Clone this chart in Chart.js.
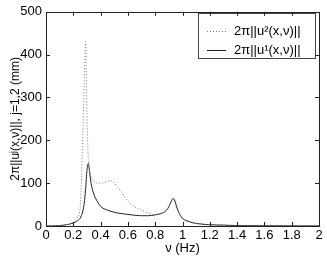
<!DOCTYPE html>
<html>
<head>
<meta charset="utf-8">
<script src="https://cdn.jsdelivr.net/npm/chart.js@4/dist/chart.umd.min.js"></script>
<style>
  html, body { margin: 0; padding: 0; background: #fff; }
  #wrap { width: 327px; height: 256px; }
</style>
</head>
<body>
<div id="wrap"><canvas id="chart" width="327" height="256"></canvas></div>
<script>
// frequency (Hz)
const freq = [0, 0.05, 0.1, 0.15, 0.2, 0.23, 0.25, 0.27, 0.28, 0.29, 0.3, 0.31, 0.32, 0.33, 0.35, 0.38,
  0.4, 0.45, 0.47, 0.5, 0.55, 0.6, 0.65, 0.7, 0.75, 0.8, 0.85, 0.88, 0.9, 0.92, 0.93, 0.94, 0.96, 0.98,
  1.0, 1.05, 1.1, 1.2, 1.3, 1.4, 1.6, 1.8, 2.0];

// 2*pi*||u1|| (mm), solid
const u1 = [0, 0.2, 1, 3, 7, 12, 18, 35, 53, 85, 130, 146, 125, 100, 75, 55,
  46, 37, 35, 32, 29, 27, 25, 24, 24, 26, 30, 36, 45, 59, 64, 62, 42, 27,
  18, 10, 6, 3, 2, 1, 0.5, 0.3, 0.2];

// 2*pi*||u2|| (mm), dotted
const u2 = [0, 0.3, 1, 3, 9, 20, 44, 215, 330, 430, 260, 155, 128, 114, 105, 100,
  100, 104, 106, 100, 80, 58, 45, 37, 30, 27, 30, 36, 45, 59, 64, 62, 42, 27,
  18, 10, 6, 3, 2, 1, 0.5, 0.3, 0.2];

const xTicks = [0, 0.2, 0.4, 0.6, 0.8, 1, 1.2, 1.4, 1.6, 1.8, 2];
const yTicks = [0, 100, 200, 300, 400, 500];

const labelU2 = "2π||u²(x,ν)||";
const labelU1 = "2π||u¹(x,ν)||";

const FONT = "Liberation Sans, Arial, Helvetica, sans-serif";
const AXIS = "#222";

const toPoints = (ys) => freq.map((f, i) => ({ x: f, y: ys[i] }));

// box + inward tick marks, matlab style
const frameTicks = {
  id: "frameTicks",
  afterDraw(chart) {
    const { ctx, chartArea, scales } = chart;
    const { left, right, top, bottom } = chartArea;
    const len = 4;
    ctx.save();
    ctx.strokeStyle = AXIS;
    ctx.lineWidth = 1;
    ctx.strokeRect(Math.round(left) + 0.5, Math.round(top) + 0.5,
      Math.round(right - left), Math.round(bottom - top));
    ctx.beginPath();
    xTicks.forEach((t) => {
      const px = Math.round(scales.x.getPixelForValue(t)) + 0.5;
      ctx.moveTo(px, bottom); ctx.lineTo(px, bottom - len);
      ctx.moveTo(px, top); ctx.lineTo(px, top + len);
    });
    yTicks.forEach((t) => {
      const py = Math.round(scales.y.getPixelForValue(t)) + 0.5;
      ctx.moveTo(left, py); ctx.lineTo(left + len, py);
      ctx.moveTo(right, py); ctx.lineTo(right - len, py);
    });
    ctx.stroke();
    ctx.restore();
  }
};

// legend box in the upper right corner
const boxLegend = {
  id: "boxLegend",
  afterDatasetsDraw(chart) {
    const { ctx } = chart;
    const bx = 198, by = 13, bw = 117, bh = 45;
    ctx.save();
    ctx.fillStyle = "#fff";
    ctx.fillRect(bx, by, bw, bh);
    ctx.strokeStyle = "#444";
    ctx.lineWidth = 1;
    ctx.strokeRect(bx + 0.5, by + 0.5, bw, bh);
    ctx.font = "13px " + FONT;
    ctx.textBaseline = "middle";
    ctx.fillStyle = "#000";
    chart.data.datasets.forEach((ds, i) => {
      const y = by + 18 + i * 19 + 0.5;
      ctx.strokeStyle = ds.borderColor;
      ctx.lineWidth = ds.borderWidth;
      ctx.setLineDash(ds.borderDash || []);
      ctx.beginPath();
      ctx.moveTo(bx + 9, y);
      ctx.lineTo(bx + 28, y);
      ctx.stroke();
      ctx.setLineDash([]);
      ctx.fillText(ds.label, bx + 36, y);
    });
    ctx.restore();
  }
};

new Chart(document.getElementById("chart"), {
  type: "line",
  data: {
    datasets: [
      {
        label: labelU2,
        data: toPoints(u2),
        borderColor: "#7a7a7a",
        borderWidth: 1,
        borderDash: [1, 2],
        pointRadius: 0,
        cubicInterpolationMode: "monotone",
        fill: false
      },
      {
        label: labelU1,
        data: toPoints(u1),
        borderColor: "#222",
        borderWidth: 1,
        pointRadius: 0,
        cubicInterpolationMode: "monotone",
        fill: false
      }
    ]
  },
  options: {
    responsive: false,
    animation: false,
    devicePixelRatio: 1,
    layout: { padding: { top: 10, right: 8, left: 0, bottom: 0 } },
    plugins: {
      legend: { display: false },
      tooltip: { enabled: false }
    },
    scales: {
      x: {
        type: "linear",
        min: 0,
        max: 2,
        afterBuildTicks: (scale) => { scale.ticks = xTicks.map((v) => ({ value: v })); },
        afterFit: (scale) => { scale.height = 30; },
        grid: { display: false, drawTicks: false },
        border: { display: false },
        ticks: {
          color: "#000",
          font: { family: FONT, size: 13 },
          padding: 2,
          maxRotation: 0,
          callback: (v) => String(+v.toFixed(1))
        },
        title: {
          display: true,
          text: "ν (Hz)",
          color: "#000",
          font: { family: FONT, size: 13 },
          padding: { top: 0, bottom: 0 }
        }
      },
      y: {
        min: 0,
        max: 500,
        afterBuildTicks: (scale) => { scale.ticks = yTicks.map((v) => ({ value: v })); },
        afterFit: (scale) => { scale.width = 46; },
        grid: { display: false, drawTicks: false },
        border: { display: false },
        ticks: {
          color: "#000",
          font: { family: FONT, size: 13 },
          padding: 4
        },
        title: {
          display: true,
          text: "2π||uʲ(x,ν)||, j=1,2 (mm)",
          color: "#000",
          font: { family: FONT, size: 12 },
          padding: { top: 8, bottom: 0 }
        }
      }
    }
  },
  plugins: [frameTicks, boxLegend]
});
</script>
</body>
</html>
